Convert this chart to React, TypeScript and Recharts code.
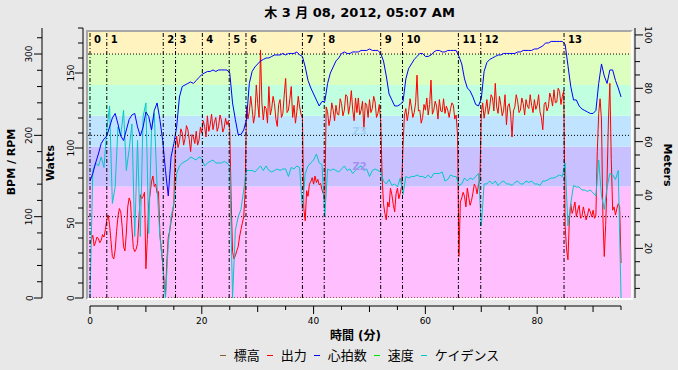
import { ComposedChart, Line, XAxis, YAxis, ReferenceArea, ReferenceLine } from 'recharts';

// heart rate and cadence every half minute, power every quarter minute, 0 .. 95 min
const STEP = 0.5;
const POWER_STEP = 0.25;

const HR = [
  78, 83, 90, 96, 103, 106, 108, 114, 120, 123,
  116, 108, 105, 112, 119, 122, 123, 114, 108, 114,
  124, 121, 112, 125, 130, 119, 105, 85, 68, 94,
  103, 114, 134, 141, 142, 143, 144, 143, 145, 147,
  149, 150, 151, 151, 152, 151, 152, 152, 152, 152,
  150, 130, 119, 109, 109, 112, 119, 143, 151, 154,
  156, 158, 159, 160, 160, 161, 162, 162, 162, 163,
  162, 163, 163, 163, 164, 162, 161, 154, 145, 140,
  136, 132, 128, 131, 131, 143, 150, 154, 158, 160,
  163, 164, 163, 163, 164, 164, 164, 165, 165, 165,
  166, 165, 165, 165, 163, 158, 148, 136, 132, 128,
  128, 129, 131, 146, 153, 156, 159, 161, 163, 163,
  161, 161, 162, 164, 165, 165, 164, 164, 165, 165,
  165, 165, 161, 156, 146, 140, 138, 134, 129, 128,
  133, 151, 157, 159, 160, 161, 162, 162, 163, 163,
  163, 163, 163, 164, 164, 165, 165, 165, 165, 166,
  166, 167, 168, 170, 170, 171, 171, 171, 171, 171,
  169, 155, 141, 132, 132, 128, 126, 125, 124, 123,
  123, 125, 143, 156, 148, 143, 152, 152, 145, 140,
  134,
];

const POWER = [
  67, 72, 77, 64, 69, 75, 73, 68, 71, 78, 75, 84, 96, 102, 90, 70, 51, 48, 59, 82,
  100, 110, 106, 88, 63, 58, 80, 112, 123, 118, 86, 62, 57, 60, 67, 98, 127, 122, 125, 130,
  36, 72, 116, 128, 143, 150, 137, 140, 129, 131, 79, 60, 43, 20, 4, 45, 75, 82, 94, 104,
  116, 185, 199, 185, 192, 208, 203, 188, 196, 212, 207, 195, 180, 201, 198, 190, 205, 188, 194, 210,
  203, 218, 211, 198, 224, 205, 213, 226, 207, 216, 222, 205, 211, 225, 219, 204, 209, 221, 213, 218,
  207, 120, 57, 48, 52, 58, 63, 75, 84, 92, 100, 130, 235, 220, 229, 248, 233, 215, 225, 262,
  239, 222, 305, 240, 219, 236, 233, 215, 260, 225, 233, 248, 239, 220, 211, 238, 244, 222, 227, 250,
  270, 228, 231, 245, 260, 222, 237, 215, 229, 248, 235, 226, 221, 110, 95, 132, 125, 140, 143, 148,
  140, 150, 142, 146, 139, 141, 133, 128, 118, 235, 229, 212, 221, 240, 231, 218, 237, 226, 225, 245,
  239, 224, 231, 250, 248, 226, 237, 255, 231, 218, 246, 228, 246, 225, 231, 242, 207, 240, 237, 222,
  244, 228, 233, 248, 241, 222, 227, 238, 219, 150, 116, 104, 96, 118, 112, 135, 127, 115, 106, 128,
  135, 122, 129, 138, 188, 225, 233, 218, 229, 245, 235, 222, 228, 240, 274, 230, 231, 215, 222, 238,
  231, 246, 225, 238, 268, 226, 231, 242, 236, 220, 244, 230, 229, 245, 227, 236, 231, 222, 233, 240,
  237, 220, 225, 200, 51, 118, 123, 130, 125, 112, 135, 124, 114, 120, 129, 140, 137, 128, 140, 145,
  227, 240, 221, 232, 244, 226, 235, 250, 246, 230, 264, 235, 227, 248, 237, 224, 231, 250, 213, 236,
  239, 226, 198, 230, 235, 250, 242, 228, 231, 246, 239, 225, 244, 236, 233, 250, 237, 228, 244, 232,
  237, 250, 229, 222, 207, 238, 241, 230, 235, 252, 246, 236, 256, 240, 241, 258, 254, 238, 248, 255,
  88, 60, 47, 95, 116, 104, 110, 118, 100, 108, 114, 98, 100, 112, 104, 96, 102, 110, 106, 100,
  108, 98, 102, 180, 227, 245, 219, 100, 51, 90, 145, 220, 264, 170, 108, 112, 102, 110, 116, 112,
  43,
];

const CADENCE = [
  0, 85, 90, 88, 94, 87, 112, 128, 63, 74,
  114, 108, 125, 85, 99, 116, 41, 105, 41, 121,
  130, 43, 112, 123, 74, 41, 23, 0, 36, 54,
  63, 83, 88, 90, 91, 92, 94, 93, 92, 94,
  93, 88, 90, 91, 92, 90, 90, 90, 91, 90,
  88, 0, 45, 54, 59, 72, 85, 85, 85, 84,
  86, 88, 85, 88, 85, 84, 85, 86, 85, 86,
  86, 81, 87, 86, 88, 87, 59, 83, 88, 90,
  92, 96, 90, 89, 54, 86, 85, 86, 85, 84,
  86, 88, 85, 86, 83, 85, 87, 88, 85, 86,
  81, 85, 86, 85, 84, 78, 76, 79, 75, 76,
  74, 80, 69, 81, 80, 81, 81, 82, 81, 81,
  80, 82, 80, 83, 83, 83, 84, 78, 79, 82,
  81, 81, 75, 76, 80, 78, 80, 79, 81, 83,
  48, 76, 76, 78, 76, 78, 75, 77, 78, 76,
  76, 75, 77, 78, 76, 76, 78, 77, 78, 76,
  76, 75, 78, 78, 79, 80, 80, 81, 82, 81,
  90, 48, 63, 75, 74, 74, 72, 72, 71, 72,
  70, 68, 92, 68, 59, 74, 83, 82, 79, 85,
  0,
];

const ALT_TIMES = [0, 95];
const ALT = [1.6, 1.6];

const INTERVAL_STARTS = [0, 3, 13.1, 15.3, 20.1, 24.9, 27.9, 38, 41.9, 52, 55.9, 65.9, 69.9, 84.8];

const ZONE_BOUNDS = [0, 137, 186, 224, 262, 300];
const ZONE_NAMES = ['Z1', 'Z2', 'Z3', 'Z4', 'Z5', 'Z6'];
const ZONE_COLORS = ['#ffbfff', '#c8c0ff', '#c0e4ff', '#c0ffe0', '#dcffc0', '#fff4c0'];
const ZONE_LABEL_COLORS: Record<string, string> = { Z2: '#a193f0', Z3: '#a3cdf3' };
const POWER_GRID = [100, 200, 300];

const W_TICKS = [0, 20, 40, 60, 80, 100, 120, 140, 160, 180, 200, 220, 240, 260, 280, 300, 320];
const BPM_TICKS = [0, 10, 20, 30, 40, 50, 60, 70, 80, 90, 100, 110, 120, 130, 140, 150, 160, 170, 180];
const M_TICKS = [5, 10, 15, 20, 25, 30, 35, 40, 45, 50, 55, 60, 65, 70, 75, 80, 85, 90, 95, 100];
const X_TICKS = [0, 5, 10, 15, 20, 25, 30, 35, 40, 45, 50, 55, 60, 65, 70, 75, 80, 85, 90, 95];

const TITLE = '木 3 月 08, 2012, 05:07 AM';
const LEGEND_NAMES = ['標高', '出力', '心拍数', '速度', 'ケイデンス'];
const LEGEND_COLORS = ['#8b5a2b', '#ff0000', '#0000ff', '#00e000', '#00c8c8'];

const rows = POWER.map((power, i) => {
  const t = i * POWER_STEP;
  const j = t / STEP;
  const onHalf = Number.isInteger(j);
  const a = ALT_TIMES.indexOf(t);
  return {
    t,
    power,
    hr: onHalf ? HR[j] : null,
    cad: onHalf ? CADENCE[j] : null,
    alt: a >= 0 ? ALT[a] : null,
  };
});

const FONT = '"DejaVu Sans", "Noto Sans CJK JP", sans-serif';

function SideTick(props: any) {
  const { x, y, payload, side, major } = props;
  const v = payload.value;
  const isMajor = v % major === 0;
  const dir = side === 'left' ? -1 : 1;
  const len = isMajor ? 8 : 5;
  const tx = x + dir * 12.5;
  return (
    <g>
      <line x1={x} y1={y} x2={x + dir * len} y2={y} stroke="#000" />
      {isMajor && (
        <text
          x={tx}
          y={y}
          transform={`rotate(${side === 'left' ? -90 : 90} ${tx} ${y})`}
          textAnchor="middle"
          dominantBaseline="central"
          fontSize={9}
          fill="#000"
        >
          {v}
        </text>
      )}
    </g>
  );
}

function BottomTick(props: any) {
  const { x, y, payload } = props;
  const v = payload.value;
  const len = v % 20 === 0 ? 8 : v % 10 === 0 ? 6 : 4;
  return (
    <g>
      <line x1={x} y1={y} x2={x} y2={y + len} stroke="#000" />
      {v % 20 === 0 && (
        <text x={x} y={y + 15} textAnchor="middle" dominantBaseline="central" fontSize={9} fill="#000">
          {v}
        </text>
      )}
    </g>
  );
}

function PlotChart() {
  return (
    <ComposedChart width={543} height={266} data={rows} margin={{ top: 0, right: 0, bottom: 0, left: 0 }}>
      <XAxis dataKey="t" type="number" domain={[-0.36, 96.78]} hide allowDataOverflow />
      <YAxis yAxisId="w" domain={[0, 327.1]} hide allowDataOverflow />
      <YAxis yAxisId="bpm" domain={[0, 177.3]} hide allowDataOverflow />
      <YAxis yAxisId="m" domain={[1.4, 101.1]} hide allowDataOverflow />
      {ZONE_NAMES.map((z, i) => (
        <ReferenceArea
          key={z}
          yAxisId="w"
          y1={ZONE_BOUNDS[i]}
          y2={i + 1 < ZONE_BOUNDS.length ? ZONE_BOUNDS[i + 1] : 327.1}
          fill={ZONE_COLORS[i]}
          fillOpacity={1}
          stroke="none"
          ifOverflow="hidden"
          label={
            ZONE_LABEL_COLORS[z]
              ? { value: z, position: 'center', fill: ZONE_LABEL_COLORS[z], fontSize: 10, fontWeight: 'bold' }
              : undefined
          }
        />
      ))}
      {POWER_GRID.map((v) => (
        <ReferenceLine key={v} yAxisId="w" y={v} stroke="#000" strokeDasharray="1 2" />
      ))}
      <Line yAxisId="m" dataKey="alt" stroke="#8b5a2b" strokeDasharray="1 2" dot={false} activeDot={false} connectNulls isAnimationActive={false} />
      <Line yAxisId="w" dataKey="power" type="linear" stroke="#ff0000" strokeWidth={1} dot={false} activeDot={false} isAnimationActive={false} />
      <Line yAxisId="bpm" dataKey="cad" type="linear" stroke="#00c8c8" strokeWidth={1} dot={false} activeDot={false} connectNulls isAnimationActive={false} />
      <Line yAxisId="bpm" dataKey="hr" type="linear" stroke="#0000ff" strokeWidth={1} dot={false} activeDot={false} connectNulls isAnimationActive={false} />
      {INTERVAL_STARTS.map((t, i) => (
        <ReferenceLine
          key={i}
          yAxisId="w"
          x={t}
          stroke="#000"
          strokeDasharray="4 2 1 2"
          label={{ value: String(i), position: 'insideTopLeft', offset: 4, fill: '#000', fontSize: 10, fontWeight: 'bold' }}
        />
      ))}
    </ComposedChart>
  );
}

function SideAxes() {
  return (
    <ComposedChart width={678} height={370} data={rows} margin={{ top: 28, right: 0, bottom: 72, left: 0 }}>
      <XAxis dataKey="t" type="number" domain={[0, 95]} hide allowDataOverflow />
      <YAxis
        yAxisId="w"
        orientation="left"
        width={42}
        domain={[0, 332]}
        ticks={W_TICKS}
        interval={0}
        allowDataOverflow
        tickLine={false}
        tickSize={0}
        tickMargin={0}
        axisLine={{ stroke: '#000' }}
        tick={<SideTick side="left" major={100} />}
      />
      <YAxis
        yAxisId="bpm"
        orientation="left"
        width={41}
        domain={[0, 180]}
        ticks={BPM_TICKS}
        interval={0}
        allowDataOverflow
        tickLine={false}
        tickSize={0}
        tickMargin={0}
        axisLine={{ stroke: '#000' }}
        tick={<SideTick side="left" major={50} />}
      />
      <YAxis
        yAxisId="m"
        orientation="right"
        width={43}
        domain={[1.4, 102.6]}
        ticks={M_TICKS}
        interval={0}
        allowDataOverflow
        tickLine={false}
        tickSize={0}
        tickMargin={0}
        axisLine={{ stroke: '#000' }}
        tick={<SideTick side="right" major={20} />}
      />
      <Line yAxisId="w" dataKey="power" stroke="none" dot={false} activeDot={false} isAnimationActive={false} />
      <Line yAxisId="bpm" dataKey="hr" stroke="none" dot={false} activeDot={false} isAnimationActive={false} />
      <Line yAxisId="m" dataKey="alt" stroke="none" dot={false} activeDot={false} isAnimationActive={false} />
    </ComposedChart>
  );
}

function BottomAxis() {
  return (
    <ComposedChart width={678} height={370} data={rows} margin={{ top: 20, right: 57, bottom: 0, left: 90 }}>
      <XAxis
        dataKey="t"
        type="number"
        domain={[0, 95]}
        ticks={X_TICKS}
        interval={0}
        allowDataOverflow
        height={64}
        tickLine={false}
        tickSize={0}
        tickMargin={0}
        axisLine={{ stroke: '#000' }}
        tick={<BottomTick />}
      />
      <YAxis hide domain={[0, 200]} />
      <Line dataKey="hr" stroke="none" dot={false} activeDot={false} isAnimationActive={false} />
    </ComposedChart>
  );
}

const abs = (left: number, top: number): React.CSSProperties => ({ position: 'absolute', left, top });

export default function App() {
  return (
    <div
      style={{
        position: 'absolute',
        left: 0,
        top: 0,
        width: 678,
        height: 370,
        background: '#e8e8e8',
        fontFamily: FONT,
        overflow: 'hidden',
        color: '#000',
      }}
    >
      <div style={{ ...abs(88, 4), width: 543, textAlign: 'center', fontSize: 13, fontWeight: 'bold', lineHeight: '17px' }}>
        {TITLE}
      </div>
      <div style={abs(0, 0)}>
        <SideAxes />
      </div>
      <div style={abs(0, 0)}>
        <BottomAxis />
      </div>
      <div
        style={{
          ...abs(86, 30),
          width: 543,
          height: 266,
          borderStyle: 'solid',
          borderWidth: 2,
          borderColor: '#a8a8a8 #ffffff #ffffff #a8a8a8',
          background: '#fff',
        }}
      >
        <PlotChart />
      </div>
      <div
        style={{
          ...abs(10.5, 162),
          transform: 'translate(-50%, -50%) rotate(-90deg)',
          whiteSpace: 'nowrap',
          fontSize: 11,
          fontWeight: 'bold',
        }}
      >
        BPM / RPM
      </div>
      <div
        style={{
          ...abs(50, 163),
          transform: 'translate(-50%, -50%) rotate(-90deg)',
          whiteSpace: 'nowrap',
          fontSize: 11,
          fontWeight: 'bold',
        }}
      >
        Watts
      </div>
      <div
        style={{
          ...abs(666.5, 165),
          transform: 'translate(-50%, -50%) rotate(90deg)',
          whiteSpace: 'nowrap',
          fontSize: 11,
          fontWeight: 'bold',
        }}
      >
        Meters
      </div>
      <div style={{ ...abs(90, 328), width: 531, textAlign: 'center', fontSize: 12, fontWeight: 'bold', lineHeight: '16px' }}>
        時間 (分)
      </div>
      <div
        style={{
          ...abs(88, 346),
          width: 543,
          display: 'flex',
          justifyContent: 'center',
          alignItems: 'center',
          fontSize: 13,
          lineHeight: '18px',
          fontFamily: '"Noto Sans CJK JP", sans-serif',
        }}
      >
        {LEGEND_NAMES.map((n, i) => (
          <span key={n} style={{ display: 'inline-flex', alignItems: 'center', marginRight: i < LEGEND_NAMES.length - 1 ? 7 : 0 }}>
            <span style={{ display: 'inline-block', width: 6, height: 1, background: LEGEND_COLORS[i], marginRight: 8 }} />
            {n}
          </span>
        ))}
      </div>
    </div>
  );
}
